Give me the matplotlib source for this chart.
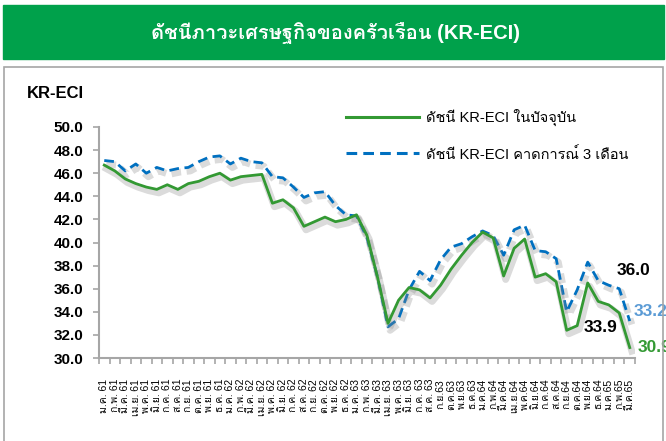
import matplotlib
matplotlib.use('Agg')
import matplotlib.pyplot as plt
import matplotlib.patheffects as pe
import numpy as np
from matplotlib import font_manager
from matplotlib.ft2font import FT2Font
from matplotlib.lines import Line2D
from matplotlib.patches import Rectangle

months = ['ม.ค.', 'ก.พ.', 'มี.ค.', 'เม.ย.', 'พ.ค.', 'มิ.ย.',
          'ก.ค.', 'ส.ค.', 'ก.ย.', 'ต.ค.', 'พ.ย.', 'ธ.ค.']
years = ['61', '62', '63', '64', '65']

# KR-ECI current index, Jan 61 - Mar 65
current_idx = [46.7, 46.2, 45.5, 45.1, 44.8, 44.6, 45.0, 44.6, 45.1, 45.3, 45.7, 46.0,
               45.4, 45.7, 45.8, 45.9, 43.4, 43.7, 43.0, 41.4, 41.8, 42.2, 41.8, 42.0,
               42.4, 40.6, 37.0, 33.0, 35.0, 36.1, 35.9, 35.2, 36.3, 37.7, 38.9, 40.0,
               40.9, 40.4, 37.1, 39.5, 40.3, 37.0, 37.3, 36.6, 32.4, 32.8, 36.5, 34.9,
               34.6, 33.9, 30.9]
# KR-ECI 3-month expectation
expected_idx = [47.1, 47.0, 46.2, 46.8, 46.0, 46.5, 46.2, 46.4, 46.5, 47.0, 47.4, 47.5,
                46.8, 47.3, 47.0, 46.9, 45.7, 45.6, 44.8, 43.9, 44.3, 44.4, 43.2, 42.4,
                42.3, 40.4, 37.0, 32.7, 33.4, 35.9, 37.5, 36.7, 38.5, 39.6, 39.9, 40.5,
                41.0, 40.6, 38.9, 41.1, 41.5, 39.3, 39.2, 38.6, 34.0, 35.9, 38.3, 36.7,
                36.3, 36.0, 33.2]

labels = []
for y in years:
    for m in months:
        sep = ' ' if len(labels) < 32 else ''
        labels.append(f'{m}{sep}{y}')
labels = labels[:len(current_idx)]

legend_names = ['ดัชนี KR-ECI ในปัจจุบัน', 'ดัชนี KR-ECI คาดการณ์ 3 เดือน']
title = 'ดัชนีภาวะเศรษฐกิจของครัวเรือน (KR-ECI)'

GREEN = '#339933'
BLUE = '#0070C0'


def find_thai_font():
    for f in font_manager.fontManager.ttflist:
        try:
            if 0x0E14 in FT2Font(f.fname).get_charmap():
                return f.name
        except Exception:
            continue
    return 'DejaVu Sans'


thai = find_thai_font()
fam = ['Liberation Sans', thai, 'DejaVu Sans']
plt.rcParams['font.family'] = fam

W, H = 666, 441
fig = plt.figure(figsize=(W / 100, H / 100), dpi=100)

# green banner + chart frame
fig.patches.append(Rectangle((3 / W, 1 - 59 / H), 661 / W, 54 / H, transform=fig.transFigure,
                             color='#00A14B', zorder=0))
fig.patches.append(Rectangle((4 / W, -0.05), 659 / W, 1 - 67 / H + 0.05, transform=fig.transFigure,
                             fill=False, edgecolor='#A6A6A6', lw=1.2, zorder=0))
fig.text(336 / W, 1 - 33 / H, title, color='white', fontsize=14.5, fontweight='bold',
         ha='center', va='center', family=fam)
fig.text(27 / W, 1 - 93 / H, 'KR-ECI', fontsize=12, fontweight='bold', va='center')

ax = fig.add_axes([99 / W, 1 - 358 / H, 536 / W, 231 / H])
x = np.arange(len(current_idx))
shadow = [pe.SimpleLineShadow(offset=(1.5, -2.5), shadow_color='#888888', alpha=0.3, linewidth=5),
          pe.Normal()]
ax.plot(x, expected_idx, color=BLUE, lw=2, dashes=(3.5, 2), path_effects=shadow, zorder=3)
ax.plot(x, current_idx, color=GREEN, lw=2, path_effects=shadow, zorder=4)

ax.set_xlim(-0.5, len(x) - 0.5)
ax.set_ylim(30, 50)
ax.set_yticks(np.arange(30, 50.1, 2))
ax.set_yticklabels([f'{v:.1f}' for v in np.arange(30, 50.1, 2)], fontweight='bold', fontsize=11)
ax.set_xticks(np.arange(-0.5, len(x), 1))
ax.set_xticklabels([])
ax.set_xticks(x, labels, minor=True, rotation=90, fontsize=7.5, family=fam)
ax.tick_params(axis='x', which='minor', length=0, pad=15)
ax.tick_params(axis='x', which='major', length=4, color='#A6A6A6', width=1.2)
ax.tick_params(axis='y', length=4, color='#A6A6A6', width=1.2, pad=7)
for s in ['top', 'right']:
    ax.spines[s].set_visible(False)
for s in ['left', 'bottom']:
    ax.spines[s].set_color('#A6A6A6')
    ax.spines[s].set_linewidth(1.5)

# end-of-series labels
n = len(x) - 1
ax.annotate(f'{current_idx[n]:.1f}', (n, current_idx[n]), xytext=(8, 0), textcoords='offset pixels',
            color=GREEN, fontsize=12.5, fontweight='bold', ha='left', va='center', annotation_clip=False)
ax.annotate(f'{expected_idx[n]:.1f}', (n, expected_idx[n]), xytext=(4, 10), textcoords='offset pixels',
            color='#5B9BD5', fontsize=12.5, fontweight='bold', ha='left', va='center', annotation_clip=False)
ax.annotate(f'{expected_idx[n - 1]:.1f}', (n - 1, expected_idx[n - 1]), xytext=(14, 18),
            textcoords='offset pixels', color='black', fontsize=12.5, fontweight='bold',
            ha='center', va='center')
ax.annotate(f'{current_idx[n - 1]:.1f}', (n - 1, current_idx[n - 1]), xytext=(-19, -15),
            textcoords='offset pixels', color='black', fontsize=12.5, fontweight='bold',
            ha='center', va='center')

handles = [Line2D([], [], color=GREEN, lw=2.2),
           Line2D([], [], color=BLUE, lw=2.2, dashes=(3.5, 2))]
fig.legend(handles, legend_names, loc='upper left', bbox_to_anchor=(333 / W, 1 - 96 / H),
           frameon=False, handlelength=5, handletextpad=0.5, labelspacing=1.4,
           prop={'family': fam, 'size': 10.5})

fig.savefig('out.png', dpi=100)
